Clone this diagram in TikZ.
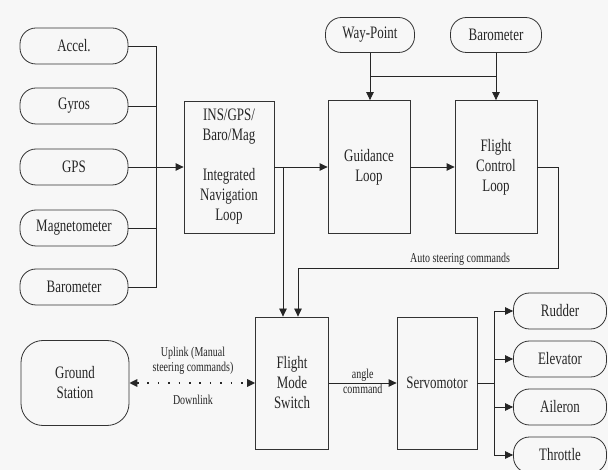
\documentclass[tikz,border=0pt]{standalone}
\usepackage{fontspec}
\setmainfont[FakeStretch=0.74]{Liberation Serif}
\usepackage{tikz}
\usetikzlibrary{arrows.meta}
\usetikzlibrary{positioning,calc}
\tikzset{
    every node/.style={font=\rmfamily, text=black!85},
    flow/.style={
        draw=black!85,
        line width=0.8pt,
        -{Triangle[length=8pt, width=7.5pt]}
    }
}

\begin{document}
\begin{tikzpicture}[x=1pt,y=-1pt]
  % Define overall style for the diagram
  \tikzset{
    pill/.style={
      draw=black!80,
      line width=0.8pt,
      rounded corners=16pt,
      minimum width=108pt,
      minimum height=36pt,
      inner sep=0pt,
      font=\fontsize{17.5}{20}\selectfont
    },
    block/.style={
      draw=black!80,
      line width=0.8pt,
      align=center,
      inner sep=0pt,
      font=\fontsize{17.5}{20}\selectfont
    },
    wire/.style={
      draw=black!85,
      line width=0.8pt
    },
    small/.style={
      font=\fontsize{13.5}{15}\selectfont,
      inner sep=1pt
    }
  }

  % Background
  \fill[black!3] (0,0) rectangle (608,470);
  \useasboundingbox (0,0) rectangle (608,470);

  % Sensors on the left
  \foreach \name/\y/\txt in {acc/46/Accel., gyr/106/Gyros, gps/167/GPS, mag/228/Magnetometer, bar/287/Barometer}
    \node[pill] (\name) at (74,\y) {\txt};

  % Loop blocks
  \node[block, minimum width=90pt, minimum height=132pt] (ins) at (229,167) {INS/GPS/\\Baro/Mag\\[20pt]Integrated\\Navigation\\Loop};
  \node[block, minimum width=82pt, minimum height=133pt] (gui) at (369,167) {Guidance\\Loop};
  \node[block, minimum width=82pt, minimum height=133pt] (fcl) at (496,167) {Flight\\Control\\Loop};

  % References on top
  \node[pill, minimum width=89pt, minimum height=35pt] (wpt) at (370,35) {Way-Point};
  \node[pill, minimum width=91pt, minimum height=35pt] (baro) at (496,35) {Barometer};

  % Bottom row
  \node[pill, rounded corners=22pt, minimum height=85pt, align=center] (gnd) at (75,383) {Ground\\Station};
  \node[block, minimum width=73pt, minimum height=132pt] (fms) at (292,383) {Flight\\Mode\\Switch};
  \node[block, minimum width=80pt, minimum height=132pt] (srv) at (437,383) {Servomotor};

  % Actuators
  \foreach \name/\y/\txt in {rud/311/Rudder, elv/359/Elevator, ail/407/Aileron, thr/455/Throttle}
    \node[pill, minimum width=93pt] (\name) at (560,\y) {\txt};

  % Sensor bus
  \coordinate (bus) at (156,167);
  \foreach \name in {acc,gyr,gps,mag,bar}
    \draw[wire] (\name.east) -| (bus);
  \draw[flow] (bus) -- (ins.west);

  % Navigation to guidance and switch
  \draw[flow] (ins.east) -- (gui.west);
  \coordinate (nav) at (283,167);
  \draw[flow] (nav) -- (nav |- fms.north);
  \draw[flow] (gui.east) -- (fcl.west);

  % Way-point and barometer
  \draw[flow] (wpt.south) -- (wpt.south |- gui.north);
  \draw[flow] (baro.south) -- (baro.south |- fcl.north);
  \coordinate (wj) at (370,76);
  \draw[wire] (wj) -- (wj -| baro.south);

  % Auto steering path
  \coordinate (auto) at (558,268);
  \draw[flow] (fcl.east) -| (auto) -| ([xshift=6pt]fms.north);
  \node[small, anchor=south] (autolbl) at (460,267) {Auto steering commands};

  % Ground link
  \draw[wire, line width=1.6pt, dash pattern=on 1.6pt off 8.8pt,
        {Triangle[length=8pt, width=7.5pt]}-{Triangle[length=8pt, width=7.5pt]}] (gnd.east) -- (fms.west);
  \node[small, align=center, anchor=south] (uplbl) at (193,376) {Uplink (Manual\\steering commands)};
  \node[small] (dnlbl) at (193,400) {Downlink};

  % Switch to servo
  \draw[flow] (fms.east) -- (srv.west)
    node[small, midway, above] (anglbl) {angle}
    node[small, midway, below] (cmdlbl) {command};

  % Servo to actuators
  \coordinate (sbus) at (494,383);
  \draw[wire] (srv.east) -- (sbus);
  \foreach \name in {rud,elv,ail,thr}
    \draw[flow] (sbus) |- (\name.west);
\end{tikzpicture}
\end{document}
